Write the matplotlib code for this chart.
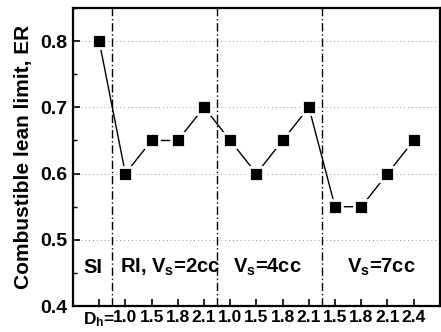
import matplotlib
matplotlib.use("Agg")
import matplotlib.pyplot as plt
from matplotlib.ticker import MultipleLocator

tick_labels = ["D$_\\mathregular{h}$=", "1.0", "1.5", "1.8", "2.1", "1.0", "1.5", "1.8", "2.1",
               "1.5", "1.8", "2.1", "2.4"]
er_values = [0.80, 0.60, 0.65, 0.65, 0.70, 0.65, 0.60, 0.65, 0.70, 0.55, 0.55, 0.60, 0.65]
group_labels = ["SI", "RI, V$_\\mathregular{s}$=2cc", "V$_\\mathregular{s}$=4cc", "V$_\\mathregular{s}$=7cc"]
group_label_x = [-0.62, 0.78, 5.1, 9.45]
separators = [0.5, 4.5, 8.5]

plt.rcParams['font.family'] = ['Liberation Sans', 'DejaVu Sans']
plt.rcParams['font.weight'] = 'bold'
plt.rcParams['mathtext.default'] = 'regular'

fig = plt.figure(figsize=(4.41, 3.32), dpi=100)
ax = fig.add_axes([0.1655, 0.078, 0.832, 0.898])

x = list(range(len(er_values)))

for yv in [0.5, 0.6, 0.7, 0.8]:
    ax.axhline(yv, color='0.55', lw=0.7, ls=(0, (1, 3)), zorder=1)
for s in separators:
    ax.axvline(s, color='black', lw=1.0, ls=(0, (6, 2, 1, 2)), zorder=2)

ax.plot(x, er_values, color='black', lw=1.0, marker='s', markersize=10.5,
        markerfacecolor='black', markeredgecolor='white', markeredgewidth=2.0, zorder=3)

for lbl, gx in zip(group_labels, group_label_x):
    ax.text(gx, 0.458, lbl, fontsize=14.5, fontweight='bold', ha='left', va='center', zorder=4)

ax.set_xlim(-1, 13)
ax.set_ylim(0.4, 0.85)
ax.set_xticks(x)
ax.set_xticklabels(tick_labels, fontsize=12.5, fontweight='bold')
ax.set_yticks([0.4, 0.5, 0.6, 0.7, 0.8])
ax.set_yticklabels(["0.4", "0.5", "0.6", "0.7", "0.8"], fontsize=14, fontweight='bold')
ax.yaxis.set_minor_locator(MultipleLocator(0.05))
ax.tick_params(axis='both', which='major', direction='in', length=5, width=1.2, pad=4)
ax.tick_params(axis='y', which='minor', direction='in', length=3, width=1)
ax.tick_params(axis='x', pad=3)
for sp in ax.spines.values():
    sp.set_linewidth(1.6)

ax.set_ylabel("Combustible lean limit, ER", fontsize=15, fontweight='bold', labelpad=5)

fig.savefig("out.png", dpi=100)
